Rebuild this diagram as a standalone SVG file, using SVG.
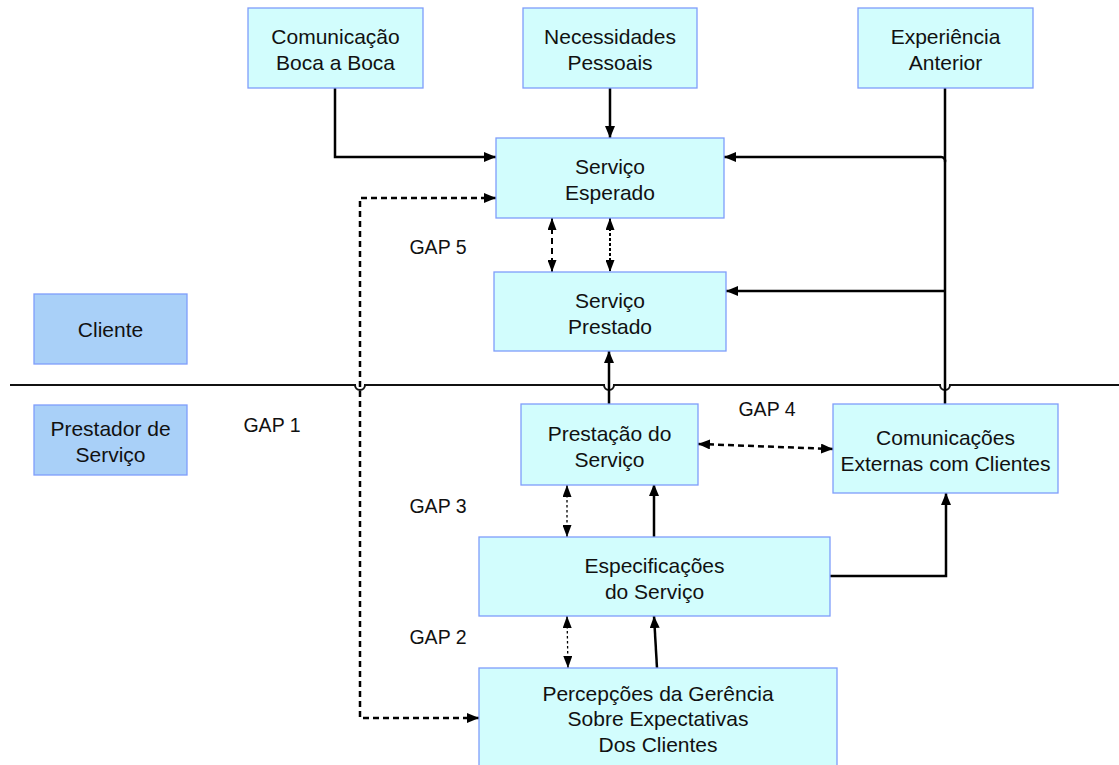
<svg xmlns="http://www.w3.org/2000/svg" width="1119" height="765" viewBox="0 0 1119 765">
  <style>
    .box { fill: #d2fdfd; stroke: #7f9dfb; stroke-width: 1.3; }
    .side { fill: #a9d0f8; stroke: #7f9dfb; stroke-width: 1.3; }
    .t { font-family: "Liberation Sans", Arial, sans-serif; font-size: 21px; fill: #111; text-anchor: middle; }
    .gap { font-family: "Liberation Sans", Arial, sans-serif; font-size: 19.5px; fill: #111; text-anchor: middle; }
    .solid { fill: none; stroke: #000; stroke-width: 2.5; }
    .dash { fill: none; stroke: #000; stroke-width: 2.5; stroke-dasharray: 6 4; }
    .dot { fill: none; stroke: #000; stroke-width: 1.3; stroke-dasharray: 2.5 2.5; }
    .divider { fill: none; stroke: #111; stroke-width: 2; }
  </style>
  <defs>
    <marker id="ah" viewBox="0 0 12 10" refX="12" refY="5" markerWidth="12" markerHeight="10" markerUnits="userSpaceOnUse" orient="auto-start-reverse">
      <path d="M0,0 L12,5 L0,10 z" fill="#000"/>
    </marker>
    <marker id="ahs" viewBox="0 0 12 9" refX="12" refY="4.5" markerWidth="12" markerHeight="9" markerUnits="userSpaceOnUse" orient="auto-start-reverse">
      <path d="M0,0 L12,4.5 L0,9 z" fill="#000"/>
    </marker>
  </defs>

  <rect width="1119" height="765" fill="#fff"/>

  <!-- client / provider divider with line hops -->
  <path class="divider" d="M10 385 H355 a5 5 0 0 0 10 0 H604 a5 5 0 0 0 10 0 H940 a5 5 0 0 0 10 0 H1119"/>

  <g id="connectors">
    <!-- inputs to expected service -->
    <path class="solid" d="M335 88 V157 H496" marker-end="url(#ah)"/>
    <path class="solid" d="M610 88 V138" marker-end="url(#ah)"/>
    <path class="solid" d="M945 88 V404"/>
    <path class="solid" d="M941 157 H724" marker-end="url(#ah)"/>
    <path class="solid" d="M945 162 a4 4 0 0 0 -4 -5"/>
    <path class="solid" d="M945 291 H726" marker-end="url(#ah)"/>
    <!-- GAP 5 -->
    <path class="dash" d="M552 218 V272" style="stroke-width:2" marker-start="url(#ahs)" marker-end="url(#ahs)"/>
    <path class="dash" d="M610 218 V272" style="stroke-width:2;stroke-dasharray:3 2" marker-start="url(#ahs)" marker-end="url(#ahs)"/>
    <!-- delivery to delivered service -->
    <path class="solid" d="M609 404 V351" marker-end="url(#ah)"/>
    <!-- GAP 1 -->
    <path class="dash" d="M479 718 H360 V198 H496" marker-start="url(#ah)" marker-end="url(#ah)"/>
    <!-- GAP 4 -->
    <path class="dash" d="M698 444 L833 449" marker-start="url(#ah)" marker-end="url(#ah)"/>
    <!-- GAP 3 -->
    <path class="dot" d="M567 485 V537" marker-start="url(#ahs)" marker-end="url(#ahs)"/>
    <path class="solid" d="M654 537 V484" marker-end="url(#ah)"/>
    <!-- GAP 2 -->
    <path class="dot" d="M567 616 L568 668" marker-start="url(#ahs)" marker-end="url(#ahs)"/>
    <path class="solid" d="M657 668 L654 616" marker-end="url(#ah)"/>
    <!-- specifications to external communications -->
    <path class="solid" d="M830 576 H946 V493" marker-end="url(#ah)"/>
  </g>

  <g id="boca-a-boca">
    <rect class="box" x="248" y="8" width="175" height="80"/>
    <text class="t" x="335.5" y="44">Comunicação</text>
    <text class="t" x="335.5" y="70">Boca a Boca</text>
  </g>
  <g id="necessidades">
    <rect class="box" x="523" y="8" width="174" height="80"/>
    <text class="t" x="610" y="44">Necessidades</text>
    <text class="t" x="610" y="70">Pessoais</text>
  </g>
  <g id="experiencia">
    <rect class="box" x="858" y="8" width="175" height="80"/>
    <text class="t" x="945.5" y="44">Experiência</text>
    <text class="t" x="945.5" y="70">Anterior</text>
  </g>
  <g id="servico-esperado">
    <rect class="box" x="496" y="138" width="228" height="80"/>
    <text class="t" x="610" y="174">Serviço</text>
    <text class="t" x="610" y="200">Esperado</text>
  </g>
  <g id="servico-prestado">
    <rect class="box" x="494" y="272" width="232" height="79"/>
    <text class="t" x="610" y="308">Serviço</text>
    <text class="t" x="610" y="334">Prestado</text>
  </g>
  <g id="cliente">
    <rect class="side" x="34" y="294" width="153" height="70"/>
    <text class="t" x="110.5" y="337">Cliente</text>
  </g>
  <g id="prestador">
    <rect class="side" x="34" y="405" width="153" height="70"/>
    <text class="t" x="110.5" y="436">Prestador de</text>
    <text class="t" x="110.5" y="462">Serviço</text>
  </g>
  <g id="prestacao">
    <rect class="box" x="521" y="404" width="177" height="81"/>
    <text class="t" x="609.5" y="441">Prestação do</text>
    <text class="t" x="609.5" y="467">Serviço</text>
  </g>
  <g id="comunicacoes-externas">
    <rect class="box" x="833" y="404" width="225" height="89"/>
    <text class="t" x="945.5" y="445">Comunicações</text>
    <text class="t" x="945.5" y="471">Externas com Clientes</text>
  </g>
  <g id="especificacoes">
    <rect class="box" x="479" y="537" width="351" height="79"/>
    <text class="t" x="654.5" y="573">Especificações</text>
    <text class="t" x="654.5" y="599">do Serviço</text>
  </g>
  <g id="percepcoes">
    <rect class="box" x="479" y="668" width="358" height="105"/>
    <text class="t" x="658" y="701">Percepções da Gerência</text>
    <text class="t" x="658" y="726">Sobre Expectativas</text>
    <text class="t" x="658" y="752">Dos Clientes</text>
  </g>

  <g id="gap-labels">
    <text class="gap" x="438" y="254">GAP 5</text>
    <text class="gap" x="272" y="432">GAP 1</text>
    <text class="gap" x="767" y="416">GAP 4</text>
    <text class="gap" x="438" y="513">GAP 3</text>
    <text class="gap" x="438" y="644">GAP 2</text>
  </g>
</svg>
